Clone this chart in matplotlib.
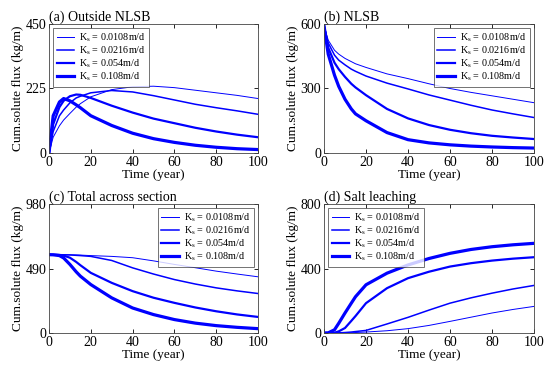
import matplotlib.pyplot as plt
import numpy as np

plt.rcParams['font.family'] = 'Liberation Serif'
plt.rcParams['mathtext.fontset'] = 'custom'
plt.rcParams['mathtext.rm'] = 'Liberation Serif'
plt.rcParams['mathtext.it'] = 'Liberation Serif'

ks_labels = ['0.0108m/d', '0.0216m/d', '0.054m/d', '0.108m/d']
widths = [0.7, 1.1, 1.6, 2.3]

t = [0, 2, 5, 7, 10, 13, 15, 20, 30, 40, 50, 60, 70, 80, 90, 100]

# (a) Outside NLSB
a_0108 = [0, 55, 95, 115, 138, 160, 172, 196, 221, 231, 233, 228, 219, 210, 201, 190]
a_0216 = [0, 75, 130, 150, 175, 192, 198, 210, 218, 213, 200, 185, 170, 158, 147, 135]
a_054 = [0, 100, 160, 182, 198, 204, 203, 192, 165, 141, 120, 104, 88, 75, 64, 55]
a_108 = [0, 130, 178, 190, 182, 168, 158, 130, 96, 69, 50, 37, 27, 20, 15, 12]

# (b) NLSB
b_0108 = [592, 525, 478, 460, 440, 425, 415, 398, 368, 346, 322, 300, 282, 266, 250, 234]
b_0216 = [592, 512, 455, 432, 410, 390, 380, 358, 325, 298, 270, 246, 222, 200, 182, 165]
b_054 = [592, 490, 420, 390, 354, 322, 305, 269, 205, 161, 130, 108, 92, 80, 72, 65]
b_108 = [592, 460, 362, 310, 250, 205, 182, 150, 95, 62, 47, 38, 32, 28, 25, 23]

# (c) Total across section
c_0108 = [595, 595, 595, 595, 594, 593, 592, 588, 582, 572, 548, 521, 496, 470, 448, 427]
c_0216 = [595, 595, 595, 594, 593, 590, 588, 582, 551, 495, 448, 406, 372, 343, 320, 300]
c_054 = [595, 595, 593, 588, 572, 540, 515, 457, 381, 318, 268, 229, 194, 165, 141, 122]
c_108 = [595, 594, 588, 570, 521, 465, 432, 368, 267, 190, 140, 102, 75, 56, 43, 33]

# (d) Salt leaching
d_0108 = [0, 0, 0, 0, 1, 2, 3, 6, 14, 27, 47, 72, 98, 124, 146, 165]
d_0216 = [0, 0, 0, 1, 3, 6, 9, 16, 56, 97, 142, 185, 218, 247, 273, 295]
d_054 = [0, 0, 2, 10, 31, 75, 105, 185, 278, 340, 380, 412, 433, 449, 461, 470]
d_108 = [0, 1, 20, 60, 124, 185, 225, 299, 371, 422, 462, 494, 518, 535, 547, 556]

panels = [
    ('(a) Outside NLSB', [a_0108, a_0216, a_054, a_108], [0, 225, 450], 'upper left'),
    ('(b) NLSB', [b_0108, b_0216, b_054, b_108], [0, 300, 600], 'upper right'),
    ('(c) Total across section', [c_0108, c_0216, c_054, c_108], [0, 490, 980], 'upper right'),
    ('(d) Salt leaching', [d_0108, d_0216, d_054, d_108], [0, 400, 800], 'upper left'),
]

W, H = 550, 369
boxes = [(49, 24, 258, 153), (324, 24, 534, 153), (49, 204, 258, 333), (324, 204, 534, 333)]

fig = plt.figure(figsize=(5.5, 3.69), dpi=100)

for (title, series, yt, loc), (x0, y0, x1, y1) in zip(panels, boxes):
    ax = fig.add_axes([x0 / W, 1 - y1 / H, (x1 - x0) / W, (y1 - y0) / H])
    for ys, lw, lab in zip(series, widths, ks_labels):
        ax.plot(t, ys, color='#0000ff', lw=lw, label=r'K$_\mathrm{s}$ = ' + lab)
    ax.set_xlim(0, 100)
    ax.set_ylim(yt[0], yt[-1])
    ax.set_xticks([0, 20, 40, 60, 80, 100])
    ax.set_yticks(yt)
    ax.tick_params(direction='in', top=True, right=True, labelsize=10, length=3, width=0.6, pad=2)
    for s in ax.spines.values():
        s.set_linewidth(0.6)
        s.set_color('#444444')
    ax.set_xlabel('Time (year)', fontsize=9.5, labelpad=0)
    ax.set_ylabel('Cum.solute flux (kg/m)', fontsize=9.5, labelpad=1)
    ax.set_title(title, fontsize=10, loc='left', pad=2)
    leg = ax.legend(loc=loc, fontsize=7.3, frameon=True, fancybox=False,
                    edgecolor='#333333', handlelength=1.7, handletextpad=0.5,
                    borderpad=0.35, labelspacing=0.05, borderaxespad=0.4)
    leg.get_frame().set_linewidth(0.6)

fig.savefig('out.png', dpi=100)
